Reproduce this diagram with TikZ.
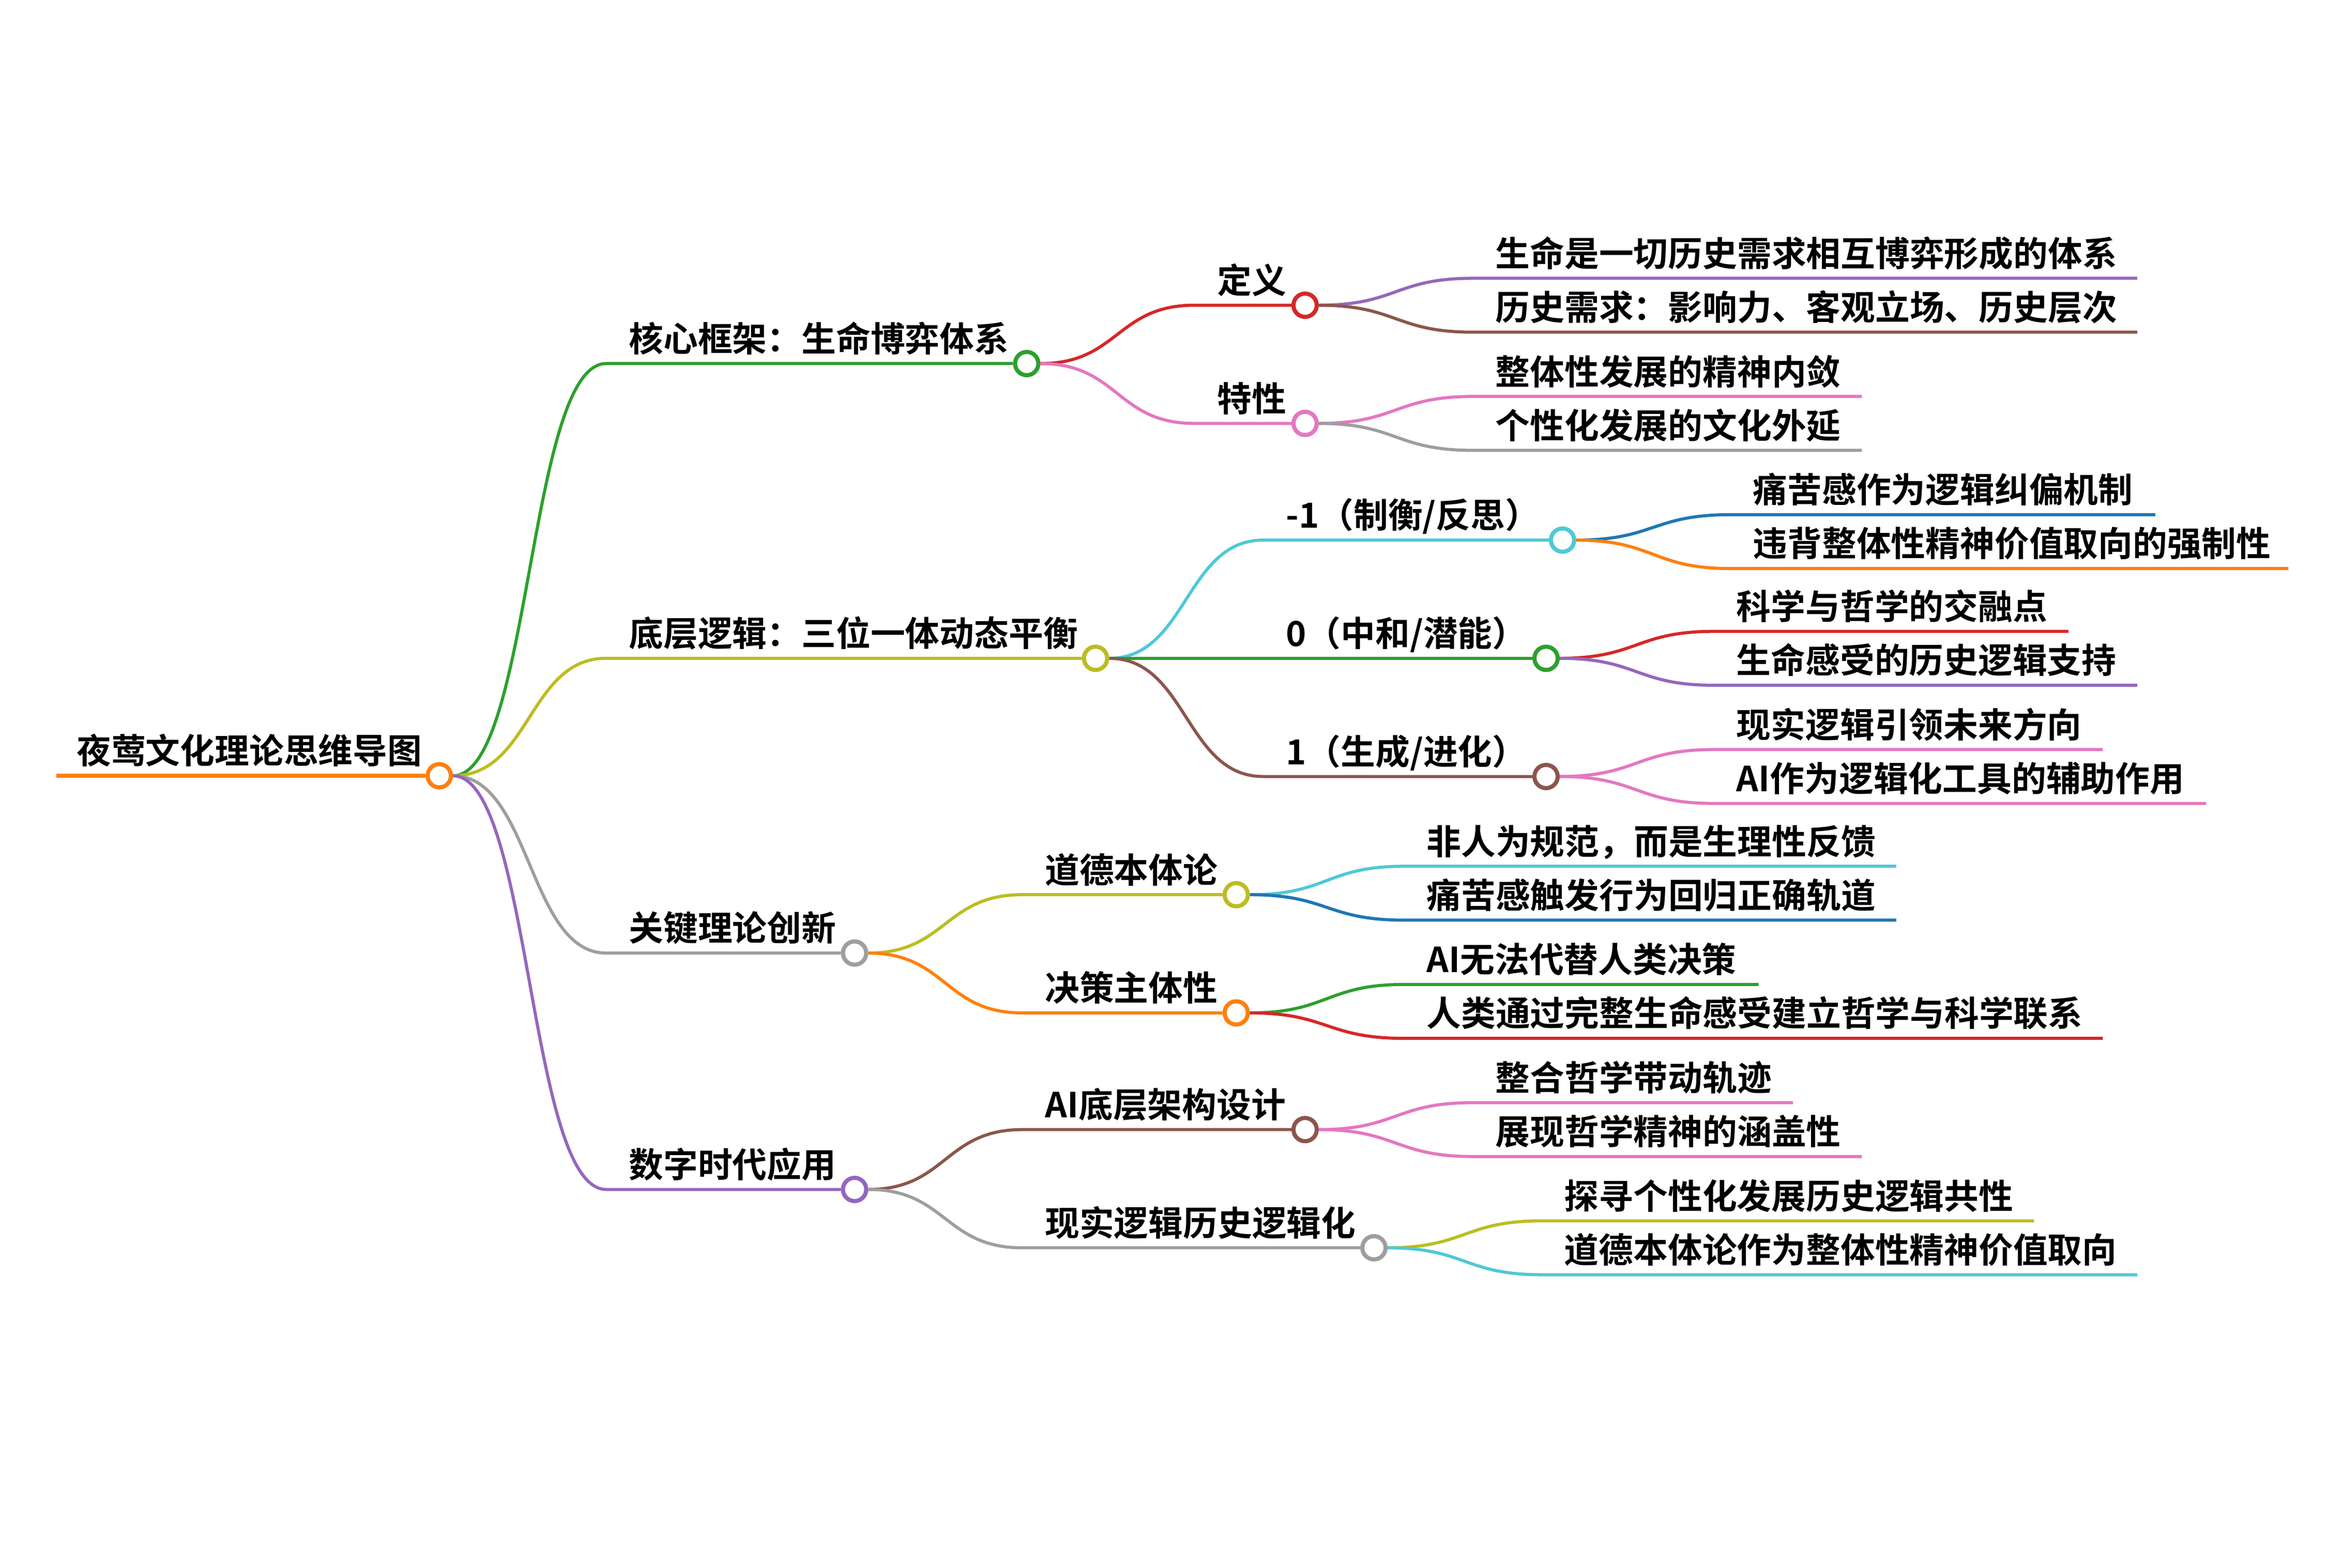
\documentclass[tikz,border=0pt]{standalone}
\usepackage{fontspec}
\setmainfont{Noto Sans CJK SC}[BoldFont={Noto Sans CJK SC Bold}]
\usepackage{tikz}
\usetikzlibrary{calc}
\definecolor{mgreen}{RGB}{44,160,44}
\definecolor{molive}{RGB}{188,189,34}
\definecolor{mgray}{RGB}{158,158,158}
\definecolor{mpurple}{RGB}{148,103,189}
\definecolor{mred}{RGB}{214,39,40}
\definecolor{mpink}{RGB}{227,119,194}
\definecolor{mbrown}{RGB}{140,86,75}
\definecolor{mcyan}{RGB}{80,200,215}
\definecolor{mblue}{RGB}{31,119,180}
\definecolor{morange}{RGB}{255,127,14}
\tikzset{
  hub/.style={circle, draw=#1, fill=white, line width=0.08cm, inner sep=0pt, minimum size=0.45cm},
  branch/.style={draw=#1, line width=0.06cm},
  topic/.style={anchor=base west, inner sep=0pt, font=\bfseries\fontsize{19}{22}\selectfont},
}

\begin{document}
\begin{tikzpicture}[x=0.02895cm, y=-0.02895cm]
\useasboundingbox (0,0) rectangle (1565.5,1048);
% root
\coordinate (root-in) at (37.7,518.5);
\node[topic] (root-lbl) at (51,510.5) {夜莺文化理论思维导图};
\node[hub=morange] (root) at (293.5,518.5) {};
\draw[branch=morange, line width=0.08cm] (root-in) -- (root);
% first level
\foreach \n/\y/\x/\c/\t in {core/243/686/mgreen/{核心框架：生命博弈体系},
  base/440/732/molive/{底层逻辑：三位一体动态平衡},
  key/637/571/mgray/{关键理论创新},
  app/795/571/mpurple/{数字时代应用}} {
 \coordinate (\n-in) at (405,\y);
 \node[topic] (\n-lbl) at (420,\y-8) {\t};
 \node[hub=\c] (\n) at (\x,\y) {};
 \draw[branch=\c] (root.east) .. controls +(52,0) and +(-52,0) .. (\n-in) -- (\n);
}
% second level
\foreach \n/\p/\y/\h/\x/\c/\t in {def/core/204/798/872/mred/{定义},
  feat/core/283/798/872/mpink/{特性},
  neg/base/361/844/1044/mcyan/{-1（制衡/反思）},
  zero/base/440/844/1033/mgreen/{0（中和/潜能）},
  one/base/519/844/1033/mbrown/{1（生成/进化）},
  moral/key/598/683/826/molive/{道德本体论},
  dec/key/677/683/826/morange/{决策主体性},
  ai/app/755/683/872/mbrown/{AI底层架构设计},
  real/app/834/683/918/mgray/{现实逻辑历史逻辑化}} {
 \coordinate (\n-in) at (\h,\y);
 \node[topic] (\n-lbl) at (\h+15,\y-8) {\t};
 \node[hub=\c] (\n) at (\x,\y) {};
 \draw[branch=\c] (\p.east) .. controls +(52,0) and +(-52,0) .. (\n-in) -- (\n);
}
% leaves
\foreach \p/\y/\h/\e/\c/\t [count=\i] in {def/186/984/1428/mpurple/{生命是一切历史需求相互博弈形成的体系},
  def/222/984/1428/mbrown/{历史需求：影响力、客观立场、历史层次},
  feat/265/984/1244/mpink/{整体性发展的精神内敛},
  feat/301/984/1244/mgray/{个性化发展的文化外延},
  neg/344/1156/1440/mblue/{痛苦感作为逻辑纠偏机制},
  neg/380/1156/1529/morange/{违背整体性精神价值取向的强制性},
  zero/422/1145/1382/mred/{科学与哲学的交融点},
  zero/458/1145/1428/mpurple/{生命感受的历史逻辑支持},
  one/501/1145/1405/mpink/{现实逻辑引领未来方向},
  one/537/1145/1474/mpink/{AI作为逻辑化工具的辅助作用},
  moral/579/938/1267/mcyan/{非人为规范，而是生理性反馈},
  moral/615/938/1267/mblue/{痛苦感触发行为回归正确轨道},
  dec/658/938/1175/mgreen/{AI无法代替人类决策},
  dec/694/938/1405/mred/{人类通过完整生命感受建立哲学与科学联系},
  ai/737/984/1198/mpink/{整合哲学带动轨迹},
  ai/773/984/1244/mpink/{展现哲学精神的涵盖性},
  real/816/1030/1359/molive/{探寻个性化发展历史逻辑共性},
  real/852/1030/1428/mcyan/{道德本体论作为整体性精神价值取向}} {
 \coordinate (leaf\i-in) at (\h,\y);
 \coordinate (leaf\i-out) at (\e,\y);
 \node[topic] (leaf\i) at (\h+15,\y-8) {\t};
 \draw[branch=\c] (\p.east) .. controls +(52,0) and +(-52,0) .. (leaf\i-in) -- (leaf\i-out);
}
\end{tikzpicture}
\end{document}
